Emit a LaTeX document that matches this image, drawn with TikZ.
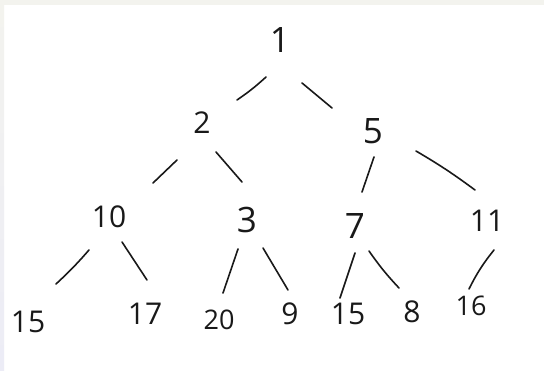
\documentclass[tikz,border=0pt]{standalone}
\usepackage{fontspec}
\setmainfont{Open Sans}
\definecolor{pen}{RGB}{25,25,25}
\definecolor{topstrip}{RGB}{243,243,238}
\definecolor{leftstrip}{RGB}{236,236,246}
\begin{document}
\begin{tikzpicture}[x=1pt,y=-1pt,
  num/.style={inner sep=0pt,text=pen,font=\fontsize{30}{30}\selectfont},
  big/.style={font=\fontsize{35}{35}\selectfont},
  small/.style={font=\fontsize{27}{27}\selectfont},
  edge/.style={draw=pen,line width=1.6pt,line cap=round}]
\useasboundingbox (0,0) rectangle (544,371);
\fill[white] (0,0) rectangle (544,371);
\fill[topstrip] (0,0) rectangle (544,5);
\shade[top color=topstrip,bottom color=leftstrip] (0,0) rectangle (4,371);
% nodes
\node[num,big]   (n1)  at (280,40)  {1};
\node[num]       (n2)  at (202,123) {2};
\node[num,big]   (n5)  at (373,131) {5};
\node[num]       (n10) at (109,217) {10};
\node[num,big]   (n3)  at (247,220) {3};
\node[num,big]   (n7)  at (355,226) {7};
\node[num]       (n11) at (487,221) {11};
\node[num]       (l15a) at (28,322)  {15};
\node[num]       (l17)  at (145,314) {17};
\node[num,small] (l20)  at (219,320) {20};
\node[num]       (l9)   at (290,314) {9};
\node[num]       (l15b) at (348,314) {15};
\node[num]       (l8)   at (412,312) {8};
\node[num,small] (l16)  at (471,306) {16};
% edge end points
\coordinate (a12) at (266,77);  \coordinate (b12) at (237,100);
\coordinate (a15) at (302,83);  \coordinate (b15) at (332,108);
\coordinate (a210) at (177,160); \coordinate (b210) at (153,183);
\coordinate (a23) at (216,152); \coordinate (b23) at (242,182);
\coordinate (a57) at (374,157); \coordinate (b57) at (362,192);
\coordinate (a511) at (416,151); \coordinate (b511) at (475,190);
\coordinate (a1015) at (89,250); \coordinate (b1015) at (56,284);
\coordinate (a1017) at (122,242); \coordinate (b1017) at (147,280);
\coordinate (a320) at (238,249); \coordinate (b320) at (223,293);
\coordinate (a39) at (263,248); \coordinate (b39) at (288,290);
\coordinate (a715) at (355,253); \coordinate (b715) at (340,298);
\coordinate (a78) at (369,251); \coordinate (b78) at (399,288);
\coordinate (a1116) at (494,250); \coordinate (b1116) at (469,289);
% edges
\draw[edge] (a12) to[bend left=4] (b12);
\draw[edge] (a15) -- (b15);
\draw[edge] (a210) -- (b210);
\draw[edge] (a23) -- (b23);
\draw[edge] (a57) -- (b57);
\draw[edge] (a511) to[bend left=3] (b511);
\draw[edge] (a1015) to[bend left=3] (b1015);
\draw[edge] (a1017) -- (b1017);
\draw[edge] (a320) -- (b320);
\draw[edge] (a39) -- (b39);
\draw[edge] (a715) -- (b715);
\draw[edge] (a78) to[bend right=4] (b78);
\draw[edge] (a1116) to[bend right=6] (b1116);
\end{tikzpicture}
\end{document}
